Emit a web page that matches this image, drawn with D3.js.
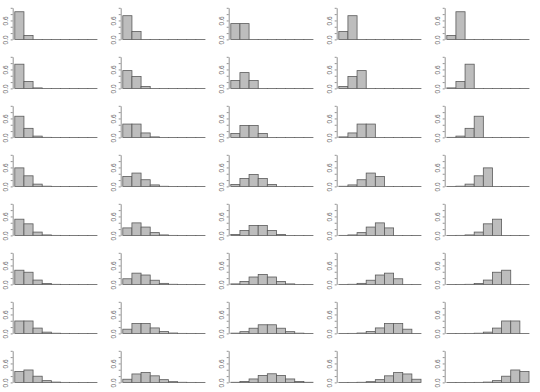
<html>
<head>
  <style>
    body { margin: 0; background: #fff; }
    svg .bar { fill: #bdbdbd; stroke: #5a5a5a; stroke-width: 0.8px; }
    svg .y-axis .domain { stroke: #777; stroke-width: 0.8px; }
    svg .y-axis .tick line { stroke: #777; stroke-width: 0.8px; }
    svg .y-axis .tick text { font: 6.5px "Liberation Sans", Arial, sans-serif; fill: #666; }
  </style>
</head>
<body>
  <div id="chart"></div>
  <script src="https://d3js.org/d3.v7.min.js"></script>
  <script>
    // binomial probabilities P(X = k), k = 0..8, one row per n = 1..8
    var successes = [0, 1, 2, 3, 4, 5, 6, 7, 8];
    var sizes = [1, 2, 3, 4, 5, 6, 7, 8];
    var probs = [0.125, 0.25, 0.5, 0.75, 0.875];
    var yTicks = [0, 0.2, 0.4, 0.6, 0.8, 1.0];
    var yLabels = ["0.0", "", "", "0.6", "", ""];

    var p125 = [
      [0.875, 0.125, 0, 0, 0, 0, 0, 0, 0],
      [0.766, 0.219, 0.016, 0, 0, 0, 0, 0, 0],
      [0.670, 0.287, 0.041, 0.002, 0, 0, 0, 0, 0],
      [0.586, 0.335, 0.072, 0.007, 0.0002, 0, 0, 0, 0],
      [0.513, 0.366, 0.105, 0.015, 0.001, 0, 0, 0, 0],
      [0.449, 0.385, 0.137, 0.026, 0.003, 0.0002, 0, 0, 0],
      [0.393, 0.393, 0.168, 0.040, 0.006, 0.0005, 0, 0, 0],
      [0.344, 0.393, 0.196, 0.056, 0.010, 0.001, 0.0001, 0, 0]
    ];
    var p250 = [
      [0.75, 0.25, 0, 0, 0, 0, 0, 0, 0],
      [0.563, 0.375, 0.063, 0, 0, 0, 0, 0, 0],
      [0.422, 0.422, 0.141, 0.016, 0, 0, 0, 0, 0],
      [0.316, 0.422, 0.211, 0.047, 0.004, 0, 0, 0, 0],
      [0.237, 0.396, 0.264, 0.088, 0.015, 0.001, 0, 0, 0],
      [0.178, 0.356, 0.297, 0.132, 0.033, 0.004, 0.0002, 0, 0],
      [0.133, 0.311, 0.311, 0.173, 0.058, 0.012, 0.001, 0.0001, 0],
      [0.100, 0.267, 0.311, 0.208, 0.087, 0.023, 0.004, 0.0004, 0]
    ];
    var p500 = [
      [0.5, 0.5, 0, 0, 0, 0, 0, 0, 0],
      [0.25, 0.5, 0.25, 0, 0, 0, 0, 0, 0],
      [0.125, 0.375, 0.375, 0.125, 0, 0, 0, 0, 0],
      [0.063, 0.25, 0.375, 0.25, 0.063, 0, 0, 0, 0],
      [0.031, 0.156, 0.313, 0.313, 0.156, 0.031, 0, 0, 0],
      [0.016, 0.094, 0.234, 0.313, 0.234, 0.094, 0.016, 0, 0],
      [0.008, 0.055, 0.164, 0.273, 0.273, 0.164, 0.055, 0.008, 0],
      [0.004, 0.031, 0.109, 0.219, 0.273, 0.219, 0.109, 0.031, 0.004]
    ];
    var p750 = [
      [0.25, 0.75, 0, 0, 0, 0, 0, 0, 0],
      [0.063, 0.375, 0.563, 0, 0, 0, 0, 0, 0],
      [0.016, 0.141, 0.422, 0.422, 0, 0, 0, 0, 0],
      [0.004, 0.047, 0.211, 0.422, 0.316, 0, 0, 0, 0],
      [0.001, 0.015, 0.088, 0.264, 0.396, 0.237, 0, 0, 0],
      [0.0002, 0.004, 0.033, 0.132, 0.297, 0.356, 0.178, 0, 0],
      [0.0001, 0.001, 0.012, 0.058, 0.173, 0.311, 0.311, 0.133, 0],
      [0, 0.0004, 0.004, 0.023, 0.087, 0.208, 0.311, 0.267, 0.100]
    ];
    var p875 = [
      [0.125, 0.875, 0, 0, 0, 0, 0, 0, 0],
      [0.016, 0.219, 0.766, 0, 0, 0, 0, 0, 0],
      [0.002, 0.041, 0.287, 0.670, 0, 0, 0, 0, 0],
      [0.0002, 0.007, 0.072, 0.335, 0.586, 0, 0, 0, 0],
      [0, 0.001, 0.015, 0.105, 0.366, 0.513, 0, 0, 0],
      [0, 0.0002, 0.003, 0.026, 0.137, 0.385, 0.449, 0, 0],
      [0, 0, 0.0005, 0.006, 0.040, 0.168, 0.393, 0.393, 0],
      [0, 0, 0.0001, 0.001, 0.010, 0.056, 0.196, 0.393, 0.344]
    ];
    var columns = [p125, p250, p500, p750, p875];

    var W = 540, H = 392,
        cellW = W / probs.length,      // 108
        cellH = H / sizes.length;      // 49

    var svg = d3.select("#chart")
      .append("svg")
        .attr("width", W)
        .attr("height", H);

    // panel-local scales, shared by every panel
    var xScale = d3.scaleBand().domain(successes).range([14.8, 97]).padding(0);
    var yScale = d3.scaleLinear().domain([0, 1]).range([39.4, 7.8]);

    var yAxis = d3.axisLeft(yScale)
      .tickValues(yTicks)
      .tickSize(2)
      .tickSizeOuter(0)
      .tickPadding(2)
      .tickFormat(function (d, i) { return yLabels[i]; });

    columns.forEach(function (col, ci) {
      col.forEach(function (vals, ri) {
        var g = svg.append("g")
          .attr("transform", "translate(" + (ci * cellW) + "," + (ri * cellH) + ")");

        var ya = g.append("g")
          .classed("y-axis", true)
          .attr("transform", "translate(12.7,0)")
          .call(yAxis);

        // R style: labels parallel to the axis
        ya.selectAll(".tick text")
          .attr("transform", "rotate(-90)")
          .attr("x", 0)
          .attr("y", -5)
          .attr("dy", "0")
          .style("text-anchor", "middle");

        // zero bars still get their outline, like barplot() does
        g.selectAll("rect.bar")
          .data(vals)
          .enter().append("rect")
            .classed("bar", true)
            .attr("x", function (d, i) { return xScale(successes[i]); })
            .attr("width", xScale.bandwidth())
            .attr("y", function (d) { return yScale(d); })
            .attr("height", function (d) { return Math.max(yScale(0) - yScale(d), 0.01); });
      });
    });
  </script>
</body>
</html>
